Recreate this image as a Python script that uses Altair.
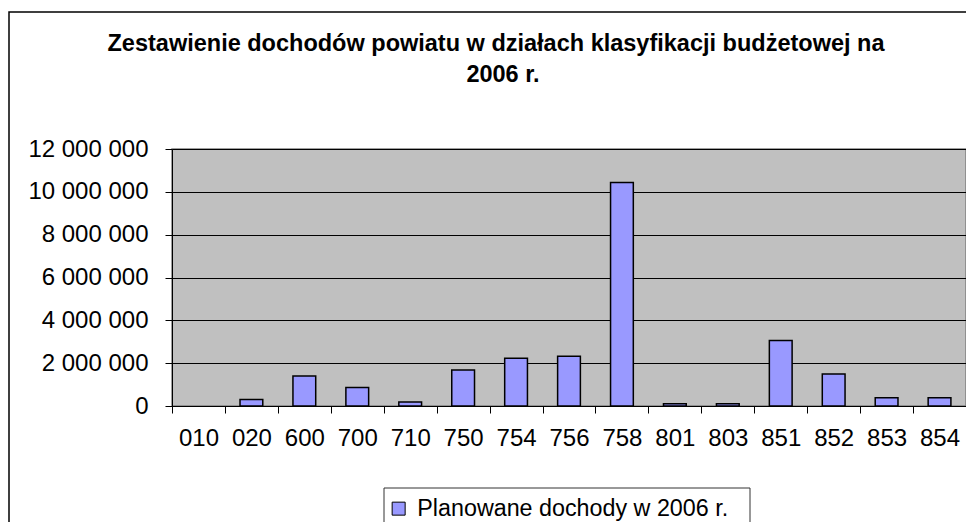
import altair as alt
import pandas as pd

categories = ["010", "020", "600", "700", "710", "750", "754", "756", "758",
              "801", "803", "851", "852", "853", "854"]
values = [0, 300000, 1400000, 860000, 190000, 1680000, 2230000, 2320000,
          10440000, 110000, 110000, 3060000, 1500000, 390000, 390000]
series_name = "Planowane dochody w 2006 r."
title_line1 = "Zestawienie dochodów powiatu w działach klasyfikacji budżetowej na"
title_line2 = "2006 r."
y_ticks = [0, 2000000, 4000000, 6000000, 8000000, 10000000, 12000000]

df = pd.DataFrame({"dzial": categories, "dochody": values, "seria": series_name})

W, H = 794, 257
FONT = "Liberation Sans"
one = alt.Data(values=[{}])

bars = alt.Chart(df).transform_filter("datum.dochody > 0").mark_bar(
    width=alt.RelativeBandSize(0.43), stroke="black", strokeWidth=1.5
).encode(
    x=alt.X("dzial:N", sort=categories, title=None,
            scale=alt.Scale(domain=categories, paddingInner=0, paddingOuter=0),
            axis=alt.Axis(labelAngle=0, tickBand="extent", ticks=True, tickSize=7,
                          tickColor="black", domainColor="black", labelFont=FONT,
                          labelFontSize=24, labelColor="black", labelPadding=13,
                          grid=False)),
    y=alt.Y("dochody:Q", title=None,
            scale=alt.Scale(domain=[0, 12000000], nice=False),
            axis=alt.Axis(values=y_ticks,
                          labelExpr="replace(format(datum.value, ','), regexp(',', 'g'), ' ')",
                          grid=True, gridColor="black", gridWidth=1, tickSize=7,
                          tickColor="black", domainColor="black", labelFont=FONT,
                          labelFontSize=24, labelColor="black", labelPadding=17)),
    color=alt.Color("seria:N", scale=alt.Scale(range=["#9999FF"]),
                    legend=alt.Legend(title=None, orient="none", legendX=215, legendY=348,
                                      symbolType="square", symbolSize=169,
                                      symbolStrokeColor="black", symbolStrokeWidth=1,
                                      labelFont=FONT, labelFontSize=23.3, labelColor="black",
                                      labelOffset=7, padding=0, labelLimit=500)),
)

frame = alt.Chart(one).mark_rect(fill=None, stroke="black", strokeWidth=1.5).encode(
    x=alt.value(-163), x2=alt.value(840), y=alt.value(-137), y2=alt.value(420))

legend_box = alt.Chart(one).mark_rect(fill="white", stroke="#333333", strokeWidth=1).encode(
    x=alt.value(212), x2=alt.value(578), y=alt.value(339), y2=alt.value(420))

t1 = alt.Chart(one).mark_text(text=title_line1, font=FONT, fontSize=23.5, fontWeight="bold",
                              color="black", align="center", baseline="middle").encode(
    x=alt.value(324), y=alt.value(-105))
t2 = alt.Chart(one).mark_text(text=title_line2, font=FONT, fontSize=23.5, fontWeight="bold",
                              color="black", align="center", baseline="middle").encode(
    x=alt.value(331), y=alt.value(-74))

chart = alt.layer(frame, legend_box, bars, t1, t2).properties(
    width=W, height=H,
    autosize=alt.AutoSizeParams(type="none"),
    padding={"left": 164, "top": 141, "right": 0, "bottom": 116},
    background="white",
).configure_view(fill="#C0C0C0", stroke="#808080", strokeWidth=1.5)

chart.save("out.html", embed_options={"renderer": "svg", "actions": False})
